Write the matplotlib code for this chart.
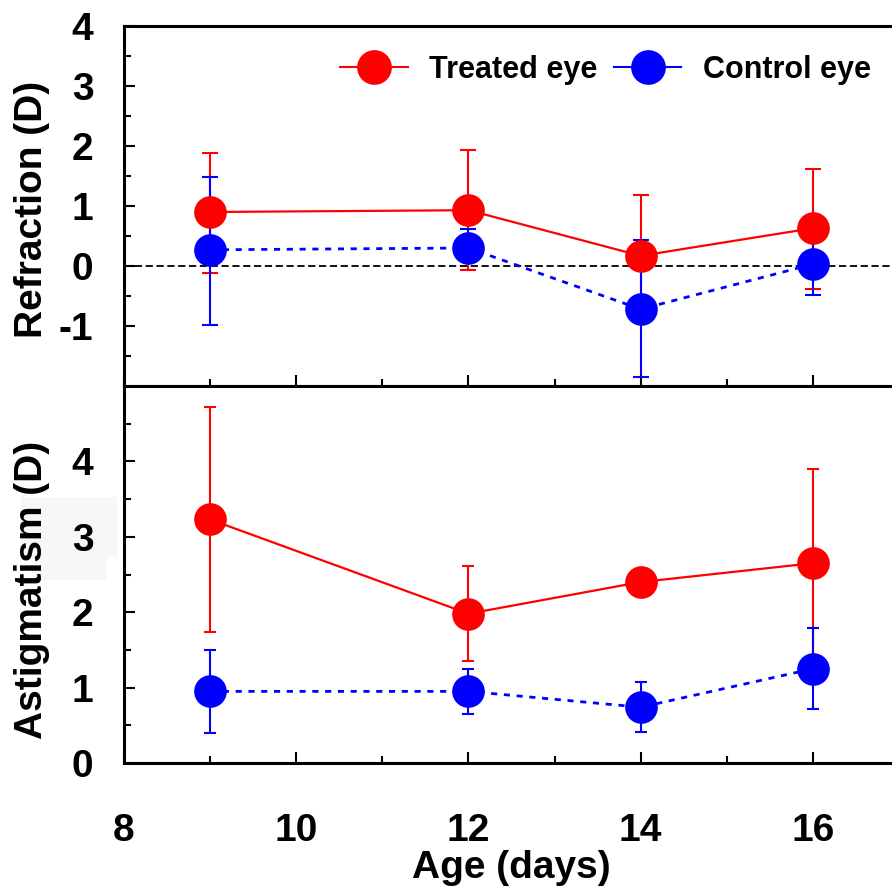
import numpy as np
import matplotlib.pyplot as plt
from matplotlib.lines import Line2D
from matplotlib.patches import Rectangle

plt.rcParams['font.family'] = ['Liberation Sans', 'DejaVu Sans']
plt.rcParams['font.weight'] = 'bold'
plt.rcParams['axes.labelweight'] = 'bold'

days = [9, 12, 14, 16]

# refraction (D): means with lower / upper error
refr_treated = [0.90, 0.93, 0.17, 0.63]
refr_treated_lo = [1.02, 1.00, 1.02, 1.02]
refr_treated_hi = [0.98, 1.00, 1.01, 0.99]
refr_control = [0.27, 0.30, -0.72, 0.03]
refr_control_lo = [1.25, 0.20, 1.13, 0.52]
refr_control_hi = [1.22, 0.32, 1.15, 0.52]

# astigmatism (D): means with symmetric error
astig_treated = [3.23, 1.98, 2.40, 2.65]
astig_treated_err = [1.49, 0.63, 0.15, 1.25]
astig_control = [0.95, 0.95, 0.74, 1.25]
astig_control_err = [0.55, 0.30, 0.33, 0.54]

refr_ticks = [-1, 0, 1, 2, 3, 4]
refr_ticklabels = ['-1', '0', '1', '2', '3', '4']
astig_ticks = [0, 1, 2, 3, 4]
astig_ticklabels = ['0', '1', '2', '3', '4']
age_ticks = [8, 10, 12, 14, 16]
age_ticklabels = ['8', '10', '12', '14', '16']

RED = '#ff0000'
BLUE = '#0000ff'
W, H = 892, 889

fig = plt.figure(figsize=(W / 100, H / 100), dpi=100)


def px_axes(left, top, right, bottom):
    return fig.add_axes([left / W, 1 - bottom / H, (right - left) / W, (bottom - top) / H])


def draw_panel(ax, treated, t_err, control, c_err, capsize):
    ax.errorbar(days, treated, yerr=t_err, fmt='none', ecolor=RED, elinewidth=1.5,
                capsize=capsize, capthick=1.5, zorder=2)
    ax.errorbar(days, control, yerr=c_err, fmt='none', ecolor=BLUE, elinewidth=1.5,
                capsize=capsize, capthick=1.5, zorder=3)
    ax.plot(days, control, color=BLUE, lw=2, ls=(0, (2.2, 2.4)), marker='o', ms=23.5,
            mec='none', zorder=4)
    ax.plot(days, treated, color=RED, lw=1.6, marker='o', ms=23.5, mec='none', zorder=5)


def style_axes(ax):
    for side in ['left', 'bottom', 'top', 'right']:
        ax.spines[side].set_linewidth(2.2)
    ax.set_xlim(8, 17)
    ax.set_xticks(age_ticks)
    ax.set_xticks([9, 11, 13, 15], minor=True)
    ax.tick_params(which='both', direction='in', width=1.5, top=False, right=False,
                   labelsize=28)
    ax.tick_params(which='major', length=8)
    ax.tick_params(which='minor', length=5)
    ax.tick_params(axis='y', pad=22)


ax_top = px_axes(124, 26, 899, 386)
ax_bot = px_axes(124, 386, 899, 763)

# top panel: refraction
draw_panel(ax_top, refr_treated, [refr_treated_lo, refr_treated_hi],
           refr_control, [refr_control_lo, refr_control_hi], capsize=6)
ax_top.axhline(0, color='black', lw=1.3, ls=(0, (4, 2)), zorder=1)
style_axes(ax_top)
ax_top.set_ylim(-2, 4)
ax_top.set_yticks(refr_ticks)
ax_top.set_yticklabels(refr_ticklabels)
ax_top.set_yticks(np.arange(-1.5, 4, 1.0), minor=True)
ax_top.tick_params(axis='x', labelbottom=False)
ax_top.set_ylabel('Refraction (D)', fontsize=28, va='center', ha='center')
ax_top.yaxis.set_label_coords(-0.119, 0.49)

# bottom panel: astigmatism
draw_panel(ax_bot, astig_treated, astig_treated_err,
           astig_control, astig_control_err, capsize=4.2)
style_axes(ax_bot)
ax_bot.set_ylim(0, 5)
ax_bot.set_yticks(astig_ticks)
ax_bot.set_yticklabels(astig_ticklabels)
ax_bot.set_yticks(np.arange(0.5, 5, 1.0), minor=True)
ax_bot.set_xticklabels(age_ticklabels)
ax_bot.tick_params(axis='x', pad=36)
ax_bot.set_xlabel('Age (days)', fontsize=28, labelpad=1)
ax_bot.set_ylabel('Astigmatism (D)', fontsize=28, va='center', ha='center')
ax_bot.yaxis.set_label_coords(-0.119, 0.46)

# faint grey patch behind the lower y label
for x0, y0, x1, y1 in [(21, 497, 117, 557), (35, 557, 106, 580)]:
    fig.patches.append(Rectangle((x0 / W, 1 - y1 / H), (x1 - x0) / W, (y1 - y0) / H,
                                 transform=fig.transFigure, facecolor='#f7f7f7',
                                 edgecolor='none', zorder=-1))

handles = [
    Line2D([], [], color=RED, lw=1.5, marker='o', ms=25, mec='none'),
    Line2D([], [], color=BLUE, lw=1.5, marker='o', ms=25, mec='none'),
]
fig.legend(handles, ['Treated eye', 'Control eye'], loc='center left',
           bbox_to_anchor=(325 / W, 1 - 70 / H), ncol=2, frameon=False,
           fontsize=22, borderpad=0, handlelength=2.2, handletextpad=0.7,
           columnspacing=0.55)

fig.savefig('out.png', dpi=100)
